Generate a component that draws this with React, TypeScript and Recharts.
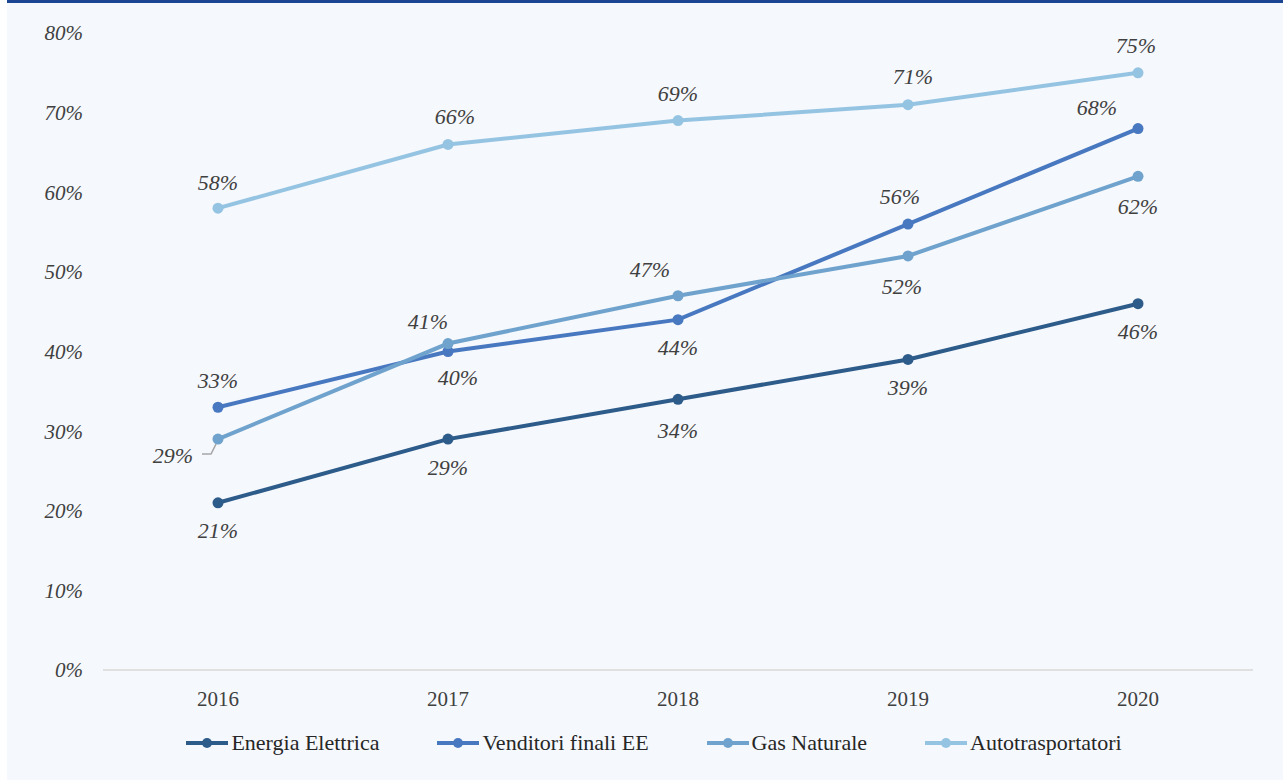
import { LineChart, Line, XAxis, YAxis, Legend, LabelList } from "recharts";

// Quota di operatori per anno (valori in %)
const years = ["2016", "2017", "2018", "2019", "2020"];
const energiaElettrica = [21, 29, 34, 39, 46];
const venditoriFinaliEE = [33, 40, 44, 56, 68];
const gasNaturale = [29, 41, 47, 52, 62];
const autotrasportatori = [58, 66, 69, 71, 75];
const yTicks = [0, 10, 20, 30, 40, 50, 60, 70, 80];

const data = years.map((year, i) => ({
  year,
  energia: energiaElettrica[i],
  venditori: venditoriFinaliEE[i],
  gas: gasNaturale[i],
  auto: autotrasportatori[i],
}));

const FONT = "'Liberation Serif', 'DejaVu Serif', serif";
const TEXT = "#404040";

// label nudges (dx, dy from the point) per series, one per year
const nudges: Record<string, [number, number][]> = {
  energia: [[0, 28], [0, 28], [0, 31], [0, 28], [0, 28]],
  venditori: [[0, -27], [10, 26], [0, 28], [-8, -28], [-41, -21]],
  gas: [[-45, 16], [-20, -22], [-28, -26], [-6, 31], [0, 30]],
  auto: [[0, -26], [7, -28], [0, -27], [5, -28], [-2, -27]],
};

const series = [
  { key: "energia", name: "Energia Elettrica", color: "#2d5b8a" },
  { key: "venditori", name: "Venditori finali EE", color: "#4878c0" },
  { key: "gas", name: "Gas Naturale", color: "#6fa3cd" },
  { key: "auto", name: "Autotrasportatori", color: "#95c4e3" },
];

function makeLabel(key: string) {
  return (props: any) => {
    const { x, y, value, index } = props;
    const [dx, dy] = nudges[key][index];
    const leader = key === "gas" && index === 0;
    return (
      <g>
        {leader && (
          <polyline
            points={`${x - 16},${y + 15} ${x - 7},${y + 15} ${x - 2},${y + 5}`}
            fill="none"
            stroke="#a6a6a6"
            strokeWidth={1.5}
          />
        )}
        <text
          x={x + dx}
          y={y + dy}
          textAnchor="middle"
          dominantBaseline="central"
          fontFamily={FONT}
          fontStyle="italic"
          fontSize={22}
          fill={TEXT}
        >
          {value}%
        </text>
      </g>
    );
  };
}

function LegendContent() {
  return (
    <div style={{ display: "flex", justifyContent: "center", gap: 56, marginLeft: 30 }}>
      {series.map((s) => (
        <div key={s.key} style={{ display: "flex", alignItems: "center" }}>
          <svg width={46} height={14} style={{ marginRight: 1 }}>
            <line x1={2} y1={7} x2={44} y2={7} stroke={s.color} strokeWidth={4} />
            <circle cx={23} cy={7} r={5} fill={s.color} />
          </svg>
          <span style={{ color: "#262626", fontFamily: FONT, fontSize: 22 }}>{s.name}</span>
        </div>
      ))}
    </div>
  );
}

export default function App() {
  return (
    <div
      style={{
        position: "absolute",
        left: 0,
        top: 0,
        width: 1283,
        height: 781,
        background: "#ffffff",
      }}
    >
      <div
        style={{
          position: "absolute",
          left: 7,
          top: 0,
          width: 1276,
          height: 777,
          background: "#f5f8fc",
          borderTop: "3px solid #1c4694",
        }}
      >
        <LineChart
          width={1276}
          height={777}
          data={data}
          margin={{ top: 30, right: 30, left: 16, bottom: 20 }}
        >
          <XAxis
            dataKey="year"
            tickLine={false}
            axisLine={{ stroke: "#d9d9d9", strokeWidth: 1.5 }}
            tick={{ fontSize: 21, fill: TEXT, fontFamily: FONT }}
            tickMargin={15}
            height={60}
            padding={{ left: 115, right: 115 }}
          />
          <YAxis
            domain={[0, 80]}
            ticks={yTicks}
            tickFormatter={(v) => `${v}%`}
            tickLine={false}
            axisLine={false}
            tick={{ fontSize: 21, fill: TEXT, fontFamily: FONT, fontStyle: "italic" }}
            tickMargin={14}
            width={80}
          />
          <Legend verticalAlign="bottom" height={30} content={() => <LegendContent />} />
          {series.map((s) => (
            <Line
              key={s.key}
              dataKey={s.key}
              name={s.name}
              stroke={s.color}
              strokeWidth={4}
              dot={{ r: 5.5, fill: s.color, stroke: s.color, strokeWidth: 0 }}
              activeDot={false}
              isAnimationActive={false}
            >
              <LabelList dataKey={s.key} content={makeLabel(s.key)} />
            </Line>
          ))}
        </LineChart>
      </div>
    </div>
  );
}
